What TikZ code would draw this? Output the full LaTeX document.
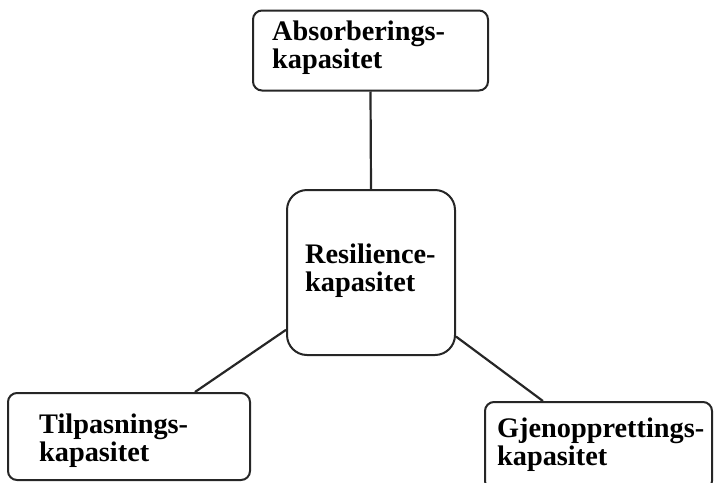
\documentclass[tikz,border=0pt]{standalone}
\usepackage{fontspec}
\setmainfont{Liberation Serif}
\begin{document}
\begin{tikzpicture}[x=1pt,y=-1pt,
  box/.style={draw=black!85,line width=2pt,rounded corners=9pt,fill=white,inner sep=0pt},
  link/.style={draw=black!85,line width=2.2pt},
  lbl/.style={anchor=base west,inner sep=0pt,font=\fontsize{28.3}{30}\selectfont\bfseries}]
\useasboundingbox (0,0) rectangle (714,482);
\clip (0,0) rectangle (714,482);
% boxes
\node[box,minimum width=235pt,minimum height=80pt] (abs) at (370.5,50.5) {};
\node[box,rounded corners=20pt,minimum width=168pt,minimum height=165pt] (res) at (371,272.5) {};
\node[box,minimum width=242pt,minimum height=87pt] (til) at (129,436.5) {};
\node[box,minimum width=227pt,minimum height=88pt] (gje) at (598.5,446) {};
% connectors
\draw[link] (abs.south) -- (res.north);
\draw[link] (res.214) -- (til.34);
\draw[link] (res.323.6) -- (gje.141.5);
% texts
\node[lbl] (abs1) at (272,40) {Absorberings-};
\node[lbl] (abs2) at (272,68.5) {kapasitet};
\node[lbl] (res1) at (305,263) {Resilience-};
\node[lbl] (res2) at (305,291.5) {kapasitet};
\node[lbl] (til1) at (39,433) {Tilpasnings-};
\node[lbl] (til2) at (39,461.5) {kapasitet};
\node[lbl] (gje1) at (497,437) {Gjenopprettings-};
\node[lbl] (gje2) at (497,465) {kapasitet};
\end{tikzpicture}
\end{document}
